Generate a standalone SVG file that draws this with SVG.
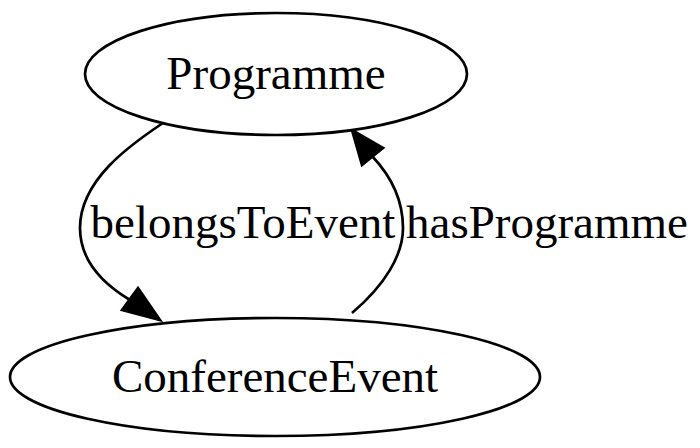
<svg xmlns="http://www.w3.org/2000/svg" width="700" height="448" viewBox="0 0 700 448">
<style>
.n{fill:#fff;stroke:#000;stroke-width:2.7}
.e{fill:none;stroke:#000;stroke-width:2.7}
.h{fill:#000;stroke:#000;stroke-width:2.7}
text{font-family:"Liberation Serif","Times New Roman",serif;font-size:47px;fill:#000}
</style>
<rect width="700" height="448" fill="#fff"/>
<g id="edges">
<g id="e1">
<path class="e" d="M163,123 C130,145 80,180 80,228 C80,258 100,282 130,300"/>
<polygon class="h" points="122,310 138,288 160,320"/>
<text x="243" y="238" text-anchor="middle">belongsToEvent</text>
</g>
<g id="e2">
<path class="e" d="M352,313 C385,285 403,255 403,228 C403,200 390,175 372,156"/>
<polygon class="h" points="362,165 383,148 352,130"/>
<text x="547" y="238" text-anchor="middle">hasProgramme</text>
</g>
</g>
<g id="Programme">
<ellipse class="n" cx="276" cy="74" rx="191" ry="61"/>
<text x="276" y="89" text-anchor="middle">Programme</text>
</g>
<g id="ConferenceEvent">
<ellipse class="n" cx="275" cy="377" rx="265" ry="59"/>
<text x="275" y="392" text-anchor="middle">ConferenceEvent</text>
</g>
</svg>
